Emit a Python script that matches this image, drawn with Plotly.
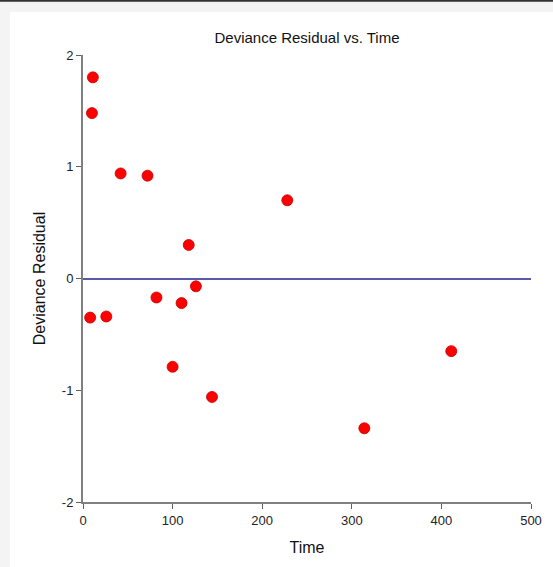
import plotly.graph_objects as go

time = [11, 10, 42, 72, 8, 26, 82, 110, 118, 126, 100, 144, 228, 411, 314]
dev_resid = [1.80, 1.48, 0.94, 0.92, -0.35, -0.34, -0.17, -0.22, 0.30, -0.07, -0.79, -1.06, 0.70, -0.65, -1.34]
x_ticks = [0, 100, 200, 300, 400, 500]
y_ticks = [-2, -1, 0, 1, 2]
y_tick_text = ["-2", "-1", "0", "1", "2"]

W, H = 553, 567
ML, MR, MT, MB = 83, 22, 55, 65
pw, ph = W - ML - MR, H - MT - MB

def px(x):
    return (x - ML) / pw

def py(y):
    return (H - MB - y) / ph

fig = go.Figure()
fig.add_trace(go.Scatter(
    x=time, y=dev_resid, mode="markers",
    marker=dict(size=11, color="#ff0000", line=dict(color="#c00000", width=0.8)),
    showlegend=False, cliponaxis=False,
))

axis_font = dict(family="Liberation Sans, Arial", size=13, color="#222222")
fig.update_layout(
    width=W, height=H,
    margin=dict(l=ML, r=MR, t=MT, b=MB),
    paper_bgcolor="#f4f4f4",
    plot_bgcolor="rgba(0,0,0,0)",
    font=dict(family="Liberation Sans, Arial", color="#111111"),
    title=dict(text="Deviance Residual vs. Time", x=0.5 * (ML + W - MR) / W, xanchor="center",
               y=1 - 38 / H, yanchor="middle", font=dict(size=15, color="#111111")),
    xaxis=dict(range=[0, 500], tickvals=x_ticks, showgrid=False, zeroline=False,
               showline=True, linecolor="#808080", linewidth=2, ticks="outside",
               ticklen=5, tickcolor="#606060", tickwidth=1, tickfont=axis_font,
               title=dict(text="Time", font=dict(size=16, color="#111111"), standoff=15)),
    yaxis=dict(range=[-2, 2], tickvals=y_ticks, ticktext=y_tick_text, showgrid=False, zeroline=True,
               zerolinecolor="#5a5aaa", zerolinewidth=1.5,
               showline=True, linecolor="#808080", linewidth=2, ticks="outside",
               ticklen=5, tickcolor="#606060", tickwidth=1, tickfont=axis_font,
               title=dict(text="Deviance Residual", font=dict(size=16, color="#111111"), standoff=12)),
    shapes=[
        dict(type="rect", xref="paper", yref="paper", x0=px(10), x1=px(W + 5), y0=py(12), y1=py(H + 5),
             fillcolor="white", line=dict(width=0), layer="below"),
        dict(type="line", xref="paper", yref="paper", x0=px(-5), x1=px(W + 5), y0=py(0.8), y1=py(0.8),
             line=dict(color="#333333", width=2), layer="below"),
    ],
)

fig.write_html("out.html")
